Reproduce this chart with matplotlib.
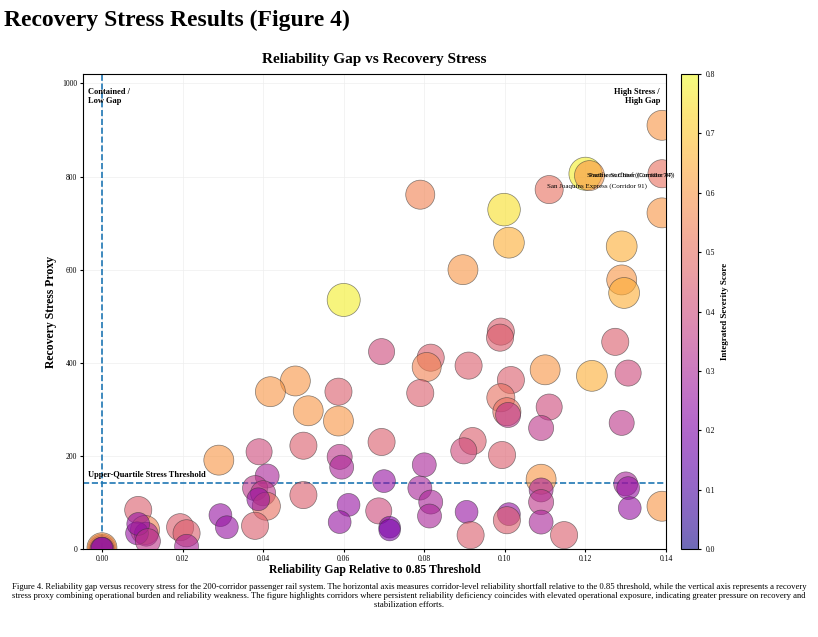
import numpy as np
import matplotlib
matplotlib.use("Agg")
import matplotlib.pyplot as plt

plt.rcParams["font.family"] = ["Liberation Serif", "DejaVu Serif"]

# reliability gap, recovery stress proxy, integrated severity score
gap = [0.139, 0.139, 0.139, 0.120, 0.121, 0.111, 0.079, 0.0998, 0.101, 0.129,
       0.129, 0.1296, 0.0896, 0.060, 0.099, 0.0988, 0.1274, 0.1306, 0.0694, 0.0816,
       0.0806, 0.091, 0.1015, 0.110, 0.1216, 0.048, 0.0418, 0.0587, 0.079, 0.0512,
       0.0587, 0.111, 0.099, 0.1005, 0.1008, 0.109, 0.129, 0.0694, 0.050, 0.092,
       0.0898, 0.0993, 0.039, 0.059, 0.0595, 0.029, 0.080, 0.041, 0.070, 0.109,
       0.130, 0.1306, 0.038, 0.040, 0.109, 0.0789, 0.050, 0.0408, 0.0388, 0.0816,
       0.0612, 0.109, 0.0905, 0.131, 0.009, 0.0687, 0.0294, 0.101, 0.0813, 0.139,
       0.059, 0.109, 0.1005, 0.0714, 0.0714, 0.031, 0.0194, 0.021, 0.038, 0.0915,
       0.1147, 0.0107, 0.011, 0.0087, 0.009, 0.021, 0.0114, 0.0, 0.0, 0.0,
       0.0, 0.0]
stress = [910, 806, 722, 806, 802, 772, 761, 729, 658, 650,
          578, 550, 600, 535, 467, 454, 445, 378, 424, 411,
          391, 394, 363, 385, 372, 361, 338, 338, 335, 297,
          275, 305, 325, 295, 288, 260, 271, 230, 222, 232,
          211, 202, 209, 198, 176, 191, 181, 157, 146, 150,
          140, 131, 131, 120, 127, 131, 116, 92, 107, 101,
          95, 101, 80, 88, 84, 82, 73, 75, 71, 92,
          58, 58, 62, 47, 41, 47, 47, 34, 50, 30,
          30, 41, 32, 34, 54, 6, 17, 2, 1, 3,
          0, 2]
severity = [0.6, 0.5, 0.6, 0.78, 0.6, 0.5, 0.55, 0.75, 0.65, 0.65,
            0.6, 0.65, 0.6, 0.78, 0.45, 0.45, 0.45, 0.4, 0.4, 0.45,
            0.55, 0.45, 0.45, 0.6, 0.65, 0.6, 0.6, 0.45, 0.45, 0.6,
            0.6, 0.4, 0.5, 0.5, 0.35, 0.35, 0.35, 0.45, 0.45, 0.45,
            0.4, 0.45, 0.4, 0.35, 0.3, 0.6, 0.3, 0.3, 0.25, 0.6,
            0.3, 0.25, 0.35, 0.35, 0.3, 0.3, 0.45, 0.5, 0.25, 0.3,
            0.25, 0.35, 0.25, 0.25, 0.45, 0.4, 0.25, 0.25, 0.3, 0.6,
            0.25, 0.3, 0.45, 0.2, 0.2, 0.25, 0.45, 0.45, 0.45, 0.45,
            0.45, 0.55, 0.3, 0.25, 0.25, 0.3, 0.35, 0.5, 0.4, 0.6,
            0.3, 0.2]
threshold = 142

labels = [("Southwest Chief (Corridor 74)", 0.1205, 803),
          ("Pacific Surfliner (Corridor 87)", 0.1208, 803),
          ("San Joaquins Express (Corridor 91)", 0.1105, 780)]

caption = ("Figure 4. Reliability gap versus recovery stress for the 200-corridor passenger rail system. "
           "The horizontal axis measures corridor-level reliability shortfall relative to the 0.85 threshold, "
           "while the vertical axis represents a recovery\nstress proxy combining operational burden and reliability weakness. "
           "The figure highlights corridors where persistent reliability deficiency coincides with elevated operational exposure, "
           "indicating greater pressure on recovery and\nstabilization efforts.")

fig = plt.figure(figsize=(8.18, 6.37), dpi=100)
fig.text(0.005, 0.985, "Recovery Stress Results (Figure 4)", fontsize=17,
         fontweight="bold", va="top", ha="left")

ax = fig.add_axes([0.1015, 0.138, 0.7127, 0.7457])
cax = fig.add_axes([0.8325, 0.138, 0.0208, 0.7457])

sev = np.array(severity)
sizes = 130 + 560 * sev
sc = ax.scatter(gap, stress, s=sizes, c=sev, cmap="plasma", vmin=0, vmax=0.8,
                alpha=0.6, edgecolors="#333333", linewidths=0.5, zorder=3)

ax.axhline(threshold, color="#1f77b4", linestyle="--", linewidth=1.2, zorder=2)
ax.axvline(0.0, color="#1f77b4", linestyle="--", linewidth=1.2, zorder=2)

ax.text(-0.0035, threshold + 8, "Upper-Quartile Stress Threshold", fontsize=6,
        fontweight="bold", va="bottom")
ax.text(-0.0035, 990, "Contained /\nLow Gap", fontsize=6, fontweight="bold", va="top")
ax.text(0.1385, 990, "High Stress /\nHigh Gap", fontsize=6, fontweight="bold",
        va="top", ha="right")
for name, lx, ly in labels:
    ax.text(lx, ly, name, fontsize=5, va="center", zorder=4)

ax.set_xlim(-0.0047, 0.14)
ax.set_ylim(0, 1020)
ax.set_xticks([0.0, 0.02, 0.04, 0.06, 0.08, 0.10, 0.12, 0.14])
ax.set_xticklabels(["0.00", "0.02", "0.04", "0.06", "0.08", "0.10", "0.12", "0.14"])
ax.set_yticks([0, 200, 400, 600, 800, 1000])
ax.tick_params(labelsize=5.5, length=2, pad=2)
ax.grid(color="#eeeeee", linewidth=0.5, zorder=0)
ax.set_title("Reliability Gap vs Recovery Stress", fontsize=11, fontweight="bold", pad=8)
ax.set_xlabel("Reliability Gap Relative to 0.85 Threshold", fontsize=8.5,
              fontweight="bold", labelpad=1)
ax.set_ylabel("Recovery Stress Proxy", fontsize=8.5, fontweight="bold")

cb = fig.colorbar(sc, cax=cax)
cb.solids.set_alpha(0.6)
cb.ax.tick_params(labelsize=5.5, length=2)
cb.set_label("Integrated Severity Score", fontsize=6.5, fontweight="bold")

fig.text(0.5, 0.084, caption, fontsize=6.2, ha="center", va="top", linespacing=1.1)

fig.savefig("out.png", dpi=100)
